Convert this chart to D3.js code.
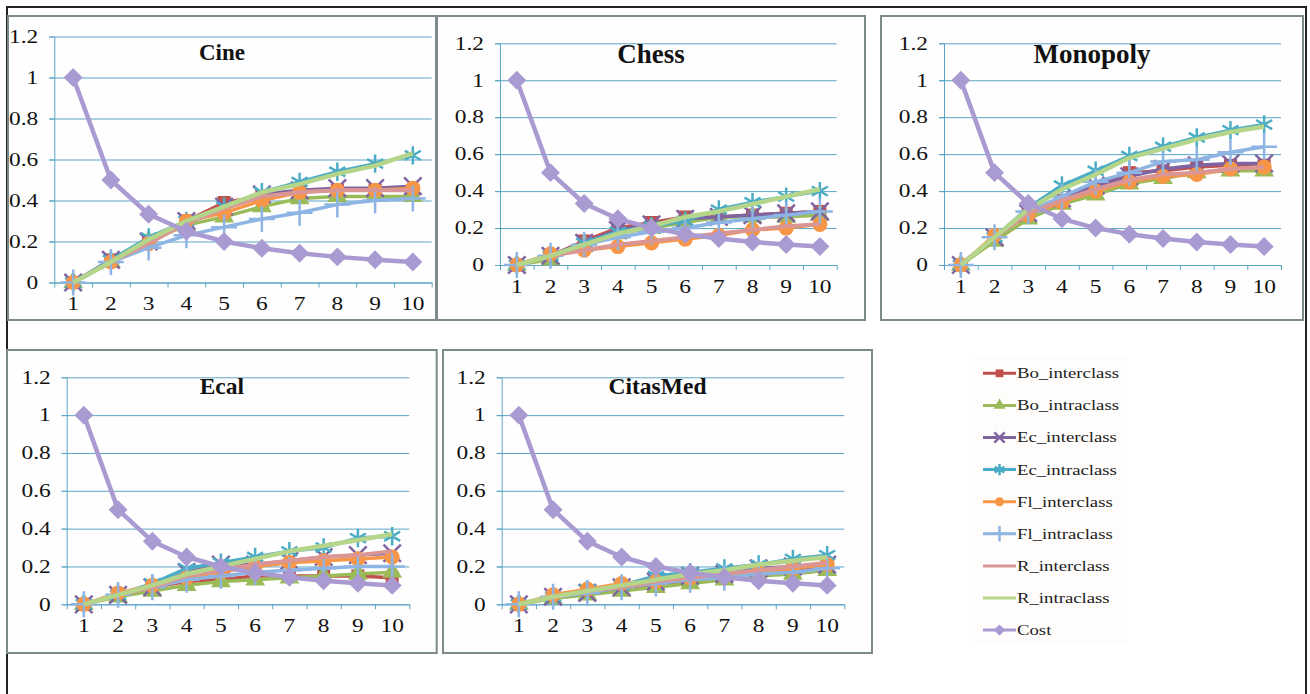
<!DOCTYPE html>
<html>
<head>
<meta charset="utf-8">
<script src="https://cdn.jsdelivr.net/npm/d3@7"></script>
<style>
  body { margin: 0; background: #fff; }
  svg { display: block; }
  text { font-family: "Liberation Serif", "Times New Roman", serif; }
</style>
</head>
<body>
<script>
// categories on the x axis
var categories = [1, 2, 3, 4, 5, 6, 7, 8, 9, 10];
var yTicks = [0, 0.2, 0.4, 0.6, 0.8, 1, 1.2];

var seriesNames = ['Bo_interclass', 'Bo_intraclass', 'Ec_interclass', 'Ec_intraclass',
  'Fl_interclass', 'Fl_intraclass', 'R_interclass', 'R_intraclass', 'Cost'];

var cost = [1, 0.5, 0.333, 0.25, 0.2, 0.167, 0.143, 0.125, 0.111, 0.1];

// values, one row per series (same order as seriesNames, Cost excluded)
var cineValues = [
  [0, 0.11, 0.2, 0.3, 0.39, 0.42, 0.45, 0.45, 0.45, 0.45],
  [0, 0.1, 0.2, 0.28, 0.32, 0.37, 0.41, 0.42, 0.42, 0.42],
  [0, 0.11, 0.2, 0.3, 0.37, 0.43, 0.45, 0.46, 0.46, 0.47],
  [0, 0.11, 0.22, 0.3, 0.37, 0.44, 0.49, 0.54, 0.58, 0.62],
  [0, 0.1, 0.19, 0.3, 0.34, 0.4, 0.44, 0.45, 0.45, 0.46],
  [0, 0.1, 0.17, 0.23, 0.27, 0.31, 0.34, 0.38, 0.4, 0.41],
  [0, 0.1, 0.19, 0.29, 0.36, 0.42, 0.44, 0.45, 0.45, 0.45],
  [0, 0.1, 0.21, 0.3, 0.37, 0.44, 0.48, 0.53, 0.57, 0.63]
];

var chessValues = [
  [0, 0.05, 0.13, 0.2, 0.23, 0.26, 0.26, 0.27, 0.28, 0.29],
  [0, 0.03, 0.11, 0.17, 0.2, 0.23, 0.26, 0.26, 0.26, 0.27],
  [0, 0.05, 0.12, 0.19, 0.22, 0.25, 0.26, 0.27, 0.28, 0.29],
  [0, 0.05, 0.12, 0.18, 0.21, 0.24, 0.3, 0.34, 0.37, 0.4],
  [0, 0.06, 0.08, 0.1, 0.12, 0.14, 0.16, 0.19, 0.2, 0.22],
  [0, 0.05, 0.11, 0.15, 0.18, 0.2, 0.23, 0.25, 0.27, 0.29],
  [0, 0.05, 0.08, 0.11, 0.13, 0.15, 0.17, 0.19, 0.21, 0.22],
  [0, 0.05, 0.11, 0.17, 0.21, 0.26, 0.29, 0.33, 0.37, 0.41]
];

var monopolyValues = [
  [0, 0.15, 0.28, 0.35, 0.42, 0.5, 0.51, 0.53, 0.54, 0.54],
  [0, 0.13, 0.25, 0.33, 0.38, 0.44, 0.47, 0.5, 0.51, 0.51],
  [0, 0.15, 0.28, 0.36, 0.43, 0.48, 0.52, 0.54, 0.55, 0.55],
  [0, 0.15, 0.31, 0.43, 0.51, 0.59, 0.64, 0.69, 0.73, 0.76],
  [0, 0.16, 0.27, 0.34, 0.4, 0.45, 0.48, 0.49, 0.52, 0.53],
  [0, 0.15, 0.29, 0.37, 0.45, 0.5, 0.56, 0.57, 0.61, 0.64],
  [0, 0.15, 0.28, 0.35, 0.41, 0.46, 0.49, 0.5, 0.52, 0.53],
  [0, 0.15, 0.3, 0.41, 0.49, 0.58, 0.63, 0.68, 0.72, 0.75]
];

var ecalValues = [
  [0, 0.05, 0.09, 0.12, 0.13, 0.15, 0.15, 0.15, 0.15, 0.14],
  [0, 0.04, 0.07, 0.1, 0.12, 0.13, 0.14, 0.15, 0.16, 0.17],
  [0, 0.05, 0.09, 0.17, 0.21, 0.21, 0.23, 0.25, 0.26, 0.27],
  [0, 0.05, 0.11, 0.19, 0.22, 0.25, 0.28, 0.3, 0.35, 0.36],
  [0, 0.06, 0.1, 0.14, 0.17, 0.2, 0.22, 0.23, 0.24, 0.25],
  [0, 0.05, 0.09, 0.13, 0.15, 0.17, 0.18, 0.19, 0.2, 0.2],
  [0, 0.05, 0.09, 0.15, 0.18, 0.21, 0.23, 0.25, 0.26, 0.28],
  [0, 0.05, 0.1, 0.16, 0.2, 0.24, 0.28, 0.31, 0.34, 0.37]
];

var citasMedValues = [
  [0, 0.04, 0.06, 0.08, 0.1, 0.12, 0.14, 0.16, 0.18, 0.2],
  [0, 0.03, 0.05, 0.07, 0.09, 0.11, 0.13, 0.15, 0.16, 0.18],
  [0, 0.04, 0.06, 0.09, 0.12, 0.15, 0.16, 0.19, 0.2, 0.21],
  [0, 0.04, 0.08, 0.1, 0.15, 0.17, 0.19, 0.21, 0.24, 0.26],
  [0, 0.05, 0.08, 0.11, 0.12, 0.14, 0.15, 0.17, 0.19, 0.21],
  [0, 0.04, 0.06, 0.09, 0.11, 0.13, 0.14, 0.16, 0.17, 0.19],
  [0, 0.04, 0.07, 0.09, 0.12, 0.14, 0.16, 0.18, 0.2, 0.22],
  [0, 0.04, 0.07, 0.1, 0.13, 0.16, 0.18, 0.21, 0.23, 0.25]
];

// styles per series
var colors = ['#C0504D', '#9BBB59', '#8064A2', '#4BACC6', '#F79646', '#8DB4E2', '#D99694', '#B5D68A', '#A99BD1'];
var markers = ['square', 'triangle', 'x', 'asterisk', 'circle', 'plus', null, null, 'diamond'];
var lineWidths = [3.5, 3.5, 3.5, 3.5, 3.5, 3.5, 4, 4.5, 4.5];

// panel layout: box = border, plot = area of the axes
var panels = [
  { title: 'Cine', values: cineValues, box: [8, 16, 436, 320], plot: [54.3, 36.5, 431.7, 282.5], fs: 23, ty: 60 },
  { title: 'Chess', values: chessValues, box: [437, 16, 865, 320], plot: [500, 43.3, 836.7, 265], fs: 27, ty: 63 },
  { title: 'Monopoly', values: monopolyValues, box: [881, 16, 1303, 320], plot: [944, 43.3, 1281, 265], fs: 27, ty: 63 },
  { title: 'Ecal', values: ecalValues, box: [7, 350, 436.7, 653], plot: [66.7, 377.3, 409.3, 604.3], fs: 23.5, ty: 394 },
  { title: 'CitasMed', values: citasMedValues, box: [443, 350, 872, 653], plot: [501.7, 377.3, 844.3, 604.3], fs: 23.5, ty: 394 }
];

var svg = d3.select('body').append('svg')
  .attr('width', 1310)
  .attr('height', 694);

//outer frame
svg.append('rect')
  .attr('x', 7).attr('y', 7)
  .attr('width', 1299).attr('height', 700)
  .attr('fill', '#fff')
  .attr('stroke', '#222')
  .attr('stroke-width', 2);

var gridColor = '#5AA5C6';
var stretch = 1.3; // the labels in the picture are drawn wider than normal

function drawMarker(g, type, color, big) {
  var s = big ? 1 : 0.6;
  if (type === 'square') {
    g.append('path').attr('d', d3.symbol(d3.symbolSquare, 170 * s * s)()).attr('fill', color);
  } else if (type === 'triangle') {
    g.append('path').attr('d', d3.symbol(d3.symbolTriangle, 170 * s * s)()).attr('fill', color);
  } else if (type === 'circle') {
    g.append('path').attr('d', d3.symbol(d3.symbolCircle, 180 * s * s)()).attr('fill', color);
  } else if (type === 'diamond') {
    g.append('path').attr('d', d3.symbol(d3.symbolSquare, 180 * s * s)())
      .attr('transform', 'rotate(45)').attr('fill', color);
  } else if (type === 'x') {
    g.append('path').attr('d', d3.symbol(d3.symbolX, 200 * s * s)())
      .attr('fill', 'none').attr('stroke', color).attr('stroke-width', 2.5);
  } else if (type === 'asterisk') {
    g.append('path').attr('d', d3.symbol(d3.symbolAsterisk, 240 * s * s)())
      .attr('fill', 'none').attr('stroke', color).attr('stroke-width', 2.5);
  } else if (type === 'plus') {
    g.append('path').attr('d', d3.symbol(d3.symbolPlus, 220 * s * s)())
      .attr('fill', 'none').attr('stroke', color).attr('stroke-width', 2.5);
  }
}

function fmt(d) { return String(+d.toFixed(1)); }

panels.forEach(function (p) {
  var b = p.box, a = p.plot;
  var pg = svg.append('g');

  pg.append('rect')
    .attr('x', b[0]).attr('y', b[1])
    .attr('width', b[2] - b[0]).attr('height', b[3] - b[1])
    .attr('fill', '#fffefe')
    .attr('stroke', '#7d8a8c')
    .attr('stroke-width', 2);

  var x = d3.scaleBand().domain(categories).range([a[0], a[2]]);
  var xEdge = d3.scaleLinear().domain([0, categories.length]).range([a[0], a[2]]);
  var y = d3.scaleLinear().domain([0, 1.2]).range([a[3], a[1]]);

  // gridlines
  pg.append('g')
    .attr('transform', 'translate(' + (a[0] - 5) + ',0)')
    .call(d3.axisLeft(y).tickValues(yTicks).tickSize(-(a[2] - a[0]) - 5).tickSizeOuter(0).tickFormat(''))
    .call(function (g) {
      g.select('.domain').remove();
      g.selectAll('line').attr('stroke', gridColor);
    });

  // y axis
  pg.append('g')
    .attr('transform', 'translate(' + a[0] + ',0)')
    .call(d3.axisLeft(y).tickValues(yTicks).tickSize(5).tickSizeOuter(0).tickPadding(0).tickFormat(fmt))
    .call(function (g) {
      g.select('.domain').attr('stroke', gridColor);
      g.selectAll('line').attr('stroke', gridColor);
      g.selectAll('text').attr('font-size', 18).attr('fill', '#111')
        .attr('font-family', '"Liberation Serif", serif')
        .attr('x', -16 / stretch)
        .attr('transform', 'scale(' + stretch + ',1)');
    });

  // x axis ticks between categories
  pg.append('g')
    .attr('transform', 'translate(0,' + a[3] + ')')
    .call(d3.axisBottom(xEdge).ticks(10).tickSize(5).tickSizeOuter(0).tickFormat(''))
    .call(function (g) {
      g.select('.domain').attr('stroke', gridColor);
      g.selectAll('line').attr('stroke', gridColor);
    });

  // x labels
  pg.append('g')
    .attr('transform', 'translate(0,' + a[3] + ')')
    .call(d3.axisBottom(x).tickSize(0).tickPadding(15))
    .call(function (g) {
      g.select('.domain').remove();
      g.selectAll('text').attr('font-size', 18).attr('fill', '#111')
        .attr('font-family', '"Liberation Serif", serif')
        .attr('transform', 'scale(' + stretch + ',1)');
    });

  pg.append('text')
    .attr('x', (b[0] + b[2]) / 2 + 0)
    .attr('y', p.ty)
    .attr('text-anchor', 'middle')
    .attr('font-weight', 'bold')
    .attr('font-size', p.fs)
    .attr('fill', '#111')
    .text(p.title);

  var all = p.values.concat([cost]);
  var line = d3.line()
    .x(function (d, i) { return x(categories[i]) + x.bandwidth() / 2; })
    .y(function (d) { return y(d); });

  all.forEach(function (vals, si) {
    var sg = pg.append('g');
    sg.append('path')
      .attr('d', line(vals))
      .attr('fill', 'none')
      .attr('stroke', colors[si])
      .attr('stroke-width', lineWidths[si])
      .attr('stroke-linejoin', 'round');
    if (markers[si]) {
      vals.forEach(function (v, i) {
        var mg = sg.append('g')
          .attr('transform', 'translate(' + (x(categories[i]) + x.bandwidth() / 2) + ',' + y(v) + ')');
        drawMarker(mg, markers[si], colors[si], true);
      });
    }
  });
});

// legend
var legend = svg.append('g');
legend.append('rect')
  .attr('x', 975).attr('y', 355)
  .attr('width', 153).attr('height', 290)
  .attr('fill', '#fffdfc');

seriesNames.forEach(function (name, i) {
  var ly = 373.3 + i * 32.1;
  var lg = legend.append('g');
  lg.append('line')
    .attr('x1', 983).attr('x2', 1016)
    .attr('y1', ly).attr('y2', ly)
    .attr('stroke', colors[i])
    .attr('stroke-width', 3);
  if (markers[i]) {
    var mg = lg.append('g').attr('transform', 'translate(999.5,' + ly + ')');
    drawMarker(mg, markers[i], colors[i], false);
  }
  lg.append('text')
    .attr('x', 1017 / 1.25)
    .attr('y', ly + 5)
    .attr('transform', 'scale(1.25,1)')
    .attr('font-size', 15)
    .attr('fill', '#222')
    .text(name);
});
</script>
</body>
</html>
